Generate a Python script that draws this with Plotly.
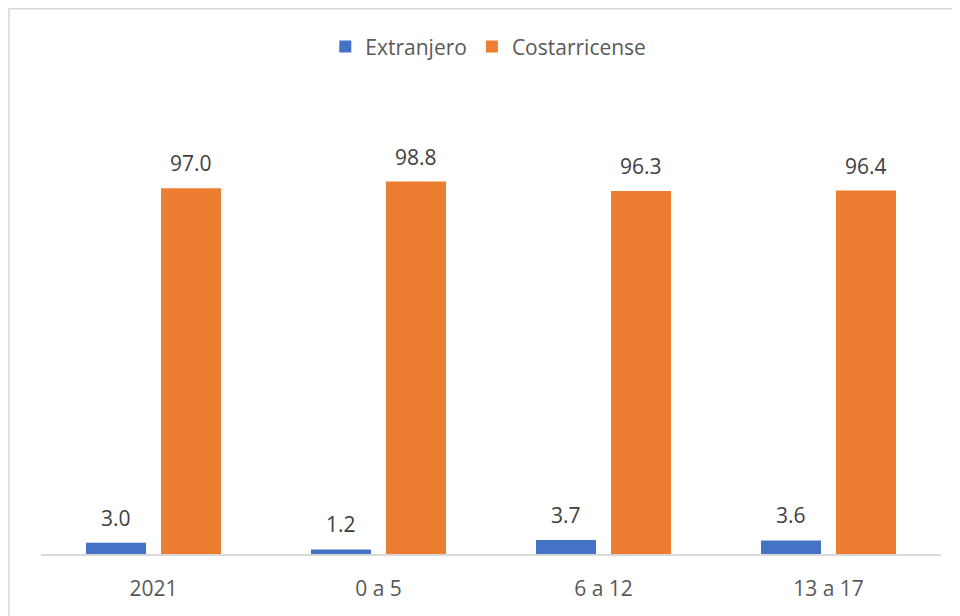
import plotly.graph_objects as go

categories = ["2021", "0 a 5", "6 a 12", "13 a 17"]
extranjero = [3.0, 1.2, 3.7, 3.6]
costarricense = [97.0, 98.8, 96.3, 96.4]

FONT = "Open Sans"
fig = go.Figure()
fig.add_trace(go.Bar(name="Extranjero", x=categories, y=extranjero,
                     marker=dict(color="#4472C4", line=dict(width=0))))
fig.add_trace(go.Bar(name="Costarricense", x=categories, y=costarricense,
                     marker=dict(color="#ED7D31", line=dict(width=0))))

annotations = []
for vals, shift in ((extranjero, -37.5), (costarricense, 37.5)):
    for i, v in enumerate(vals):
        annotations.append(dict(x=i, y=v, xref="x", yref="y", text=f"{v:.1f}",
                                showarrow=False, xshift=shift, yshift=25,
                                yanchor="middle",
                                font=dict(family=FONT, size=21, color="#404040")))

# page body adds an 8px offset, so the figure is 8px smaller and shifted
fig.update_layout(
    width=952, height=608,
    margin=dict(l=33, r=19, t=169, b=62),
    paper_bgcolor="white", plot_bgcolor="white",
    barmode="group", bargap=0.3333, bargroupgap=0.2,
    font=dict(family=FONT, size=20, color="#595959"),
    showlegend=True,
    legend=dict(orientation="h", x=0.497, xanchor="center", y=1.345, yanchor="middle",
                font=dict(family=FONT, size=21, color="#595959"),
                itemwidth=30, traceorder="normal"),
    annotations=annotations,
    shapes=[dict(type="rect", xref="paper", yref="paper",
                 x0=-0.0356, x1=1.2, y0=-0.5, y1=1.446,
                 line=dict(color="#d9d9d9", width=1.5), layer="below")],
)
fig.update_xaxes(type="category", showline=True, linecolor="#d9d9d9", linewidth=1.5,
                 ticks="", ticklabelstandoff=15,
                 tickfont=dict(family=FONT, size=21, color="#595959"))
fig.update_yaxes(range=[0, 100], visible=False, showgrid=False, zeroline=False)

fig.write_html("out.html")
